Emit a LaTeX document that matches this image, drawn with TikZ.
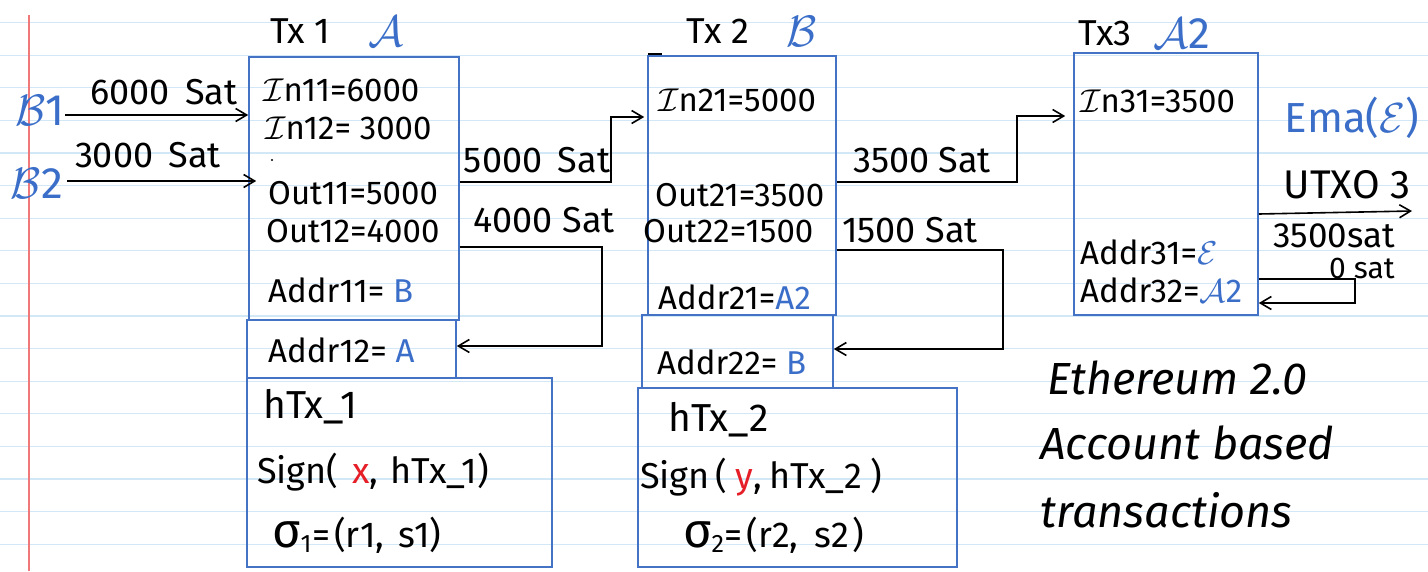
\RequirePackage{fix-cm}
\documentclass[tikz,border=0pt]{standalone}
\usepackage{fontspec}
\setmainfont{Fira Sans}
\usetikzlibrary{arrows.meta,fit}
\definecolor{inkblue}{RGB}{58,110,200}
\definecolor{boxblue}{RGB}{68,114,196}
\definecolor{inkred}{RGB}{230,30,40}
\definecolor{rule}{RGB}{210,232,247}
\definecolor{margin}{RGB}{240,120,120}
\newcommand{\sg}[1]{\scalebox{1.35}{σ}\textsubscript{#1}}
\begin{document}
\begin{tikzpicture}[x=1pt,y=-1pt,
  hw/.style={font=\fontsize{33}{35}\selectfont, inner sep=0pt},
  hwl/.style={hw, anchor=west},
  sgn/.style={font=\fontsize{36}{38}\selectfont, inner sep=0pt, anchor=west},
  hsh/.style={font=\fontsize{39}{41}\selectfont, inner sep=0pt, anchor=west},
  lab/.style={font=\fontsize{36}{38}\selectfont, inner sep=0pt},
  head/.style={font=\fontsize{36}{38}\selectfont, inner sep=0pt},
  note/.style={font=\fontsize{45}{47}\selectfont\itshape, inner sep=0pt, anchor=west},
  big/.style={font=\fontsize{44}{46}\selectfont, inner sep=0pt, text=inkblue},
  ln/.style={draw=black, line width=1.6pt},
  box/.style={draw=boxblue, line width=1.6pt, inner sep=0pt},
  arr/.style={draw=black, line width=1.6pt, -{Straight Barb[length=11pt,width=13pt,line width=1.6pt]}}]
\useasboundingbox (0,0) rectangle (1428,571);
\fill[white] (0,0) rectangle (1428,571);
% notebook rules
\foreach \k in {0,...,16}{\draw[rule, line width=1.2pt] (0,22.5+32.6*\k) -- (1428,22.5+32.6*\k);}
\draw[margin, line width=1.2pt] (29,15) -- (29,571);

% boxes
\node[box, fit={(249,57) (459,320)}] (tx1) {};
\node[box, fit={(247,320) (456,378)}] (a12) {};
\node[box, fit={(247,378) (552,567)}] (h1) {};
\node[box, fit={(648,56) (836,315)}] (tx2) {};
\node[box, fit={(642,315) (833,388)}] (a22) {};
\node[box, fit={(638,388) (957,567)}] (h2) {};
\node[box, fit={(1074,53) (1258,315)}] (tx3) {};
\draw[ln, line width=1.2pt] (648,54) -- (662,54);
\fill (272,160) circle (1.2);

% headers
\node[head] (t1) at (300,31) {Tx 1};
\node[big] (t1a) at (386,31) {$\mathcal{A}$};
\node[head] (t2) at (718,31) {Tx 2};
\node[big] (t2b) at (802,31) {$\mathcal{B}$};
\node[head] (t3) at (1105,33) {Tx3};
\node[big] (t3a) at (1182,33) {$\mathcal{A}$2};

% senders
\node[big] (b1) at (40,110) {$\mathcal{B}$1};
\node[big] (b2) at (37,183) {$\mathcal{B}$2};
\node[lab] (l6000) at (164,92) {6000 \,Sat};
\node[lab] (l3000) at (148,155) {3000 \,Sat};

% Tx1 contents
\node[hwl] (in11) at (263,90) {$\mathcal{I}$n11=6000};
\node[hwl] (in12) at (265,128) {$\mathcal{I}$n12= 3000};
\node[hwl] (o11) at (268,193) {Out11=5000};
\node[hwl] (o12) at (266,231) {Out12=4000};
\node[hwl] (ad11) at (268,290) {Addr11= \textcolor{inkblue}{B}};
\node[hwl] (ad12) at (268,350) {Addr12= \textcolor{inkblue}{A}};
\node[hsh] (htx1) at (263,407) {hTx\_1};
\node[sgn] (sg1) at (257,472) {Sign(\hspace{14pt}\textcolor{inkred}{x},\hspace{12pt}hTx\_1)};
\node[sgn] (sig1) at (272,535) {\sg{1}=\hspace{4pt}(r1,\hspace{14pt}s1)};

% Tx2 contents
\node[hwl] (in21) at (658,100) {$\mathcal{I}$n21=5000};
\node[hwl] (o21) at (655,195) {Out21=3500};
\node[hwl] (o22) at (643,231) {Out22=1500};
\node[hwl] (ad21) at (658,297) {Addr21=\textcolor{inkblue}{A2}};
\node[hwl] (ad22) at (657,362) {Addr22= \textcolor{inkblue}{B}};
\node[hsh] (htx2) at (668,420) {hTx\_2};
\node[sgn] (sg2) at (640,477) {Sign\hspace{6pt}(\hspace{8pt}\textcolor{inkred}{y},\hspace{8pt}hTx\_2\hspace{8pt})};
\node[sgn] (sig2) at (683,535) {\sg{2}=\hspace{4pt}(r2,\hspace{16pt}s2\hspace{4pt})};

% Tx3 contents
\node[hwl] (in31) at (1080,101) {$\mathcal{I}$n31=3500};
\node[hwl] (ad31) at (1080,252) {Addr31=\textcolor{inkblue}{$\mathcal{E}$}};
\node[hwl] (ad32) at (1080,290) {Addr32=\textcolor{inkblue}{$\mathcal{A}$2}};
\node[big, font=\fontsize{42}{44}\selectfont] (ema) at (1352,118) {Ema($\mathcal{E}$)};
\node[lab, font=\fontsize{40}{42}\selectfont] (utxo) at (1347,185) {UTXO 3};
\node[lab, font=\fontsize{35}{37}\selectfont] (l3500b) at (1334,236) {3500sat};
\node[lab, font=\fontsize{30}{32}\selectfont] (l0) at (1362,268) {0 sat};

% connector labels
\node[lab] (l5000) at (537,160) {5000 \,Sat};
\node[lab] (l4000) at (544,220) {4000 Sat};
\node[lab] (l3500) at (922,160) {3500 Sat};
\node[lab] (l1500) at (910,230) {1500 Sat};

% Ethereum note
\node[note] (eth) at (1047,378) {Ethereum 2.0};
\node[note] (acc) at (1040,443) {Account based};
\node[note] (trx) at (1040,510) {transactions};

% corner coordinates
\coordinate (i1) at (65,115);
\coordinate (i2) at (67,181);
\coordinate (k1) at (611,182);
\coordinate (k2) at (611,117);
\coordinate (k3) at (602,247);
\coordinate (k4) at (602,346);
\coordinate (k5) at (1017,182);
\coordinate (k6) at (1017,116);
\coordinate (k7) at (1003,250);
\coordinate (k8) at (1003,349);
\coordinate (u1) at (1412,211);
\coordinate (u0) at (1258,214);
\coordinate (k9) at (1355,279);
\coordinate (k10) at (1355,303);

% connectors
\draw[arr] (i1) -- (tx1.west |- i1);
\draw[arr] (i2) -- ([xshift=8pt]tx1.west |- i2);
\draw[arr] (tx1.east |- k1) -- (k1) -- (k2) -- ([xshift=-3pt]tx2.west |- k2);
\draw[arr] (tx1.east |- k3) -- (k3) -- (k4) -- (a12.east |- k4);
\draw[arr] (tx2.east |- k5) -- (k5) -- (k6) -- ([xshift=-8pt]tx3.west |- k6);
\draw[arr] (tx2.east |- k7) -- (k7) -- (k8) -- (a22.east |- k8);
\draw[arr] (tx3.east |- u0) -- (u1);
\draw[arr] (tx3.east |- k9) -- (k9) -- (k10) -- (tx3.east |- k10);
\end{tikzpicture}
\end{document}
